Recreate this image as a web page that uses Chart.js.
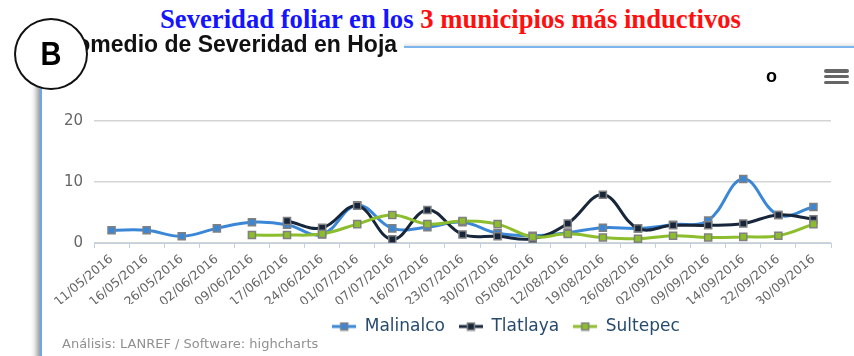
<!DOCTYPE html>
<html lang="es">
<head>
<meta charset="utf-8">
<title>Severidad foliar en los 3 municipios más inductivos</title>
<script src="https://cdn.jsdelivr.net/npm/chart.js@4.4.1/dist/chart.umd.min.js"></script>
<style>
  html, body { margin: 0; padding: 0; background: #fff; }
  body { width: 854px; height: 356px; position: relative; overflow: hidden; }
  #titulo { position: absolute; left: 160px; top: 6px; font: bold 27px/27px "Liberation Serif", "Times New Roman", serif;
            color: #1414ff; white-space: nowrap; transform-origin: 0 0; }
  #titulo .rojo { color: #ff1010; }
  #marco { position: absolute; left: 40px; top: 46px; width: 830px; height: 330px;
           border-left: 2px solid #6aa9ee; border-top: 2px solid #7db5ee;
           box-shadow: -5px 0 6px -2px rgba(0, 0, 0, .45); }
  #grafica { position: absolute; left: 0; top: 0; width: 854px; height: 356px; }
  #subtitulo { position: absolute; left: 52px; top: 33px; font: bold 23px/23px "Liberation Sans", Arial, sans-serif;
               color: #111; background: #fff; padding-right: 7px; white-space: nowrap; }
  #circulo { position: absolute; left: 14px; top: 18px; width: 70px; height: 68px; border: 2px solid #111;
             border-radius: 50%; background: #fff; }
  #circulo span { position: absolute; left: 0; right: 0; top: 17px; text-align: center;
                  font: bold 33px/33px "Liberation Sans", Arial, sans-serif; color: #000; transform: scaleX(.88); }
  #exportar { position: absolute; left: 766px; top: 67px; font: bold 18px/18px "Liberation Sans", Arial, sans-serif; color: #000; }
  #menu { position: absolute; left: 824px; top: 69px; width: 25px; }
  #menu div { height: 3.5px; background: #666; border-radius: 2px; margin-bottom: 2.4px; }
  #pie { position: absolute; left: 62px; top: 337px; font: 13px/13px "DejaVu Sans", sans-serif; color: #909090; white-space: nowrap; }
</style>
</head>
<body>
<div id="titulo">Severidad foliar en los <span class="rojo">3 municipios más inductivos</span></div>
<div id="marco"></div>
<div id="grafica"><canvas id="severidadChart"></canvas></div>
<div id="subtitulo">Promedio de Severidad en Hoja</div>
<div id="circulo"><span>B</span></div>
<div id="exportar">o</div>
<div id="menu"><div></div><div></div><div></div></div>
<div id="pie">Análisis: LANREF / Software: highcharts</div>

<script>
const fechas = [
    '11/05/2016', '16/05/2016', '26/05/2016', '02/06/2016', '09/06/2016', '17/06/2016', '24/06/2016',
    '01/07/2016', '07/07/2016', '16/07/2016', '23/07/2016', '30/07/2016', '05/08/2016', '12/08/2016',
    '19/08/2016', '26/08/2016', '02/09/2016', '09/09/2016', '14/09/2016', '22/09/2016', '30/09/2016'
];
const malinalco = [2.1, 2.1, 1.1, 2.4, 3.4, 3.0, 1.4, 6.2, 2.4, 2.6, 3.4, 1.6, 1.2, 1.7, 2.5, 2.4, 3.0, 3.7, 10.5, 4.6, 5.9];
const tlatlaya = [null, null, null, null, null, 3.6, 2.5, 6.1, 0.6, 5.4, 1.4, 1.1, 0.7, 3.2, 7.9, 2.4, 2.9, 2.9, 3.2, 4.6, 3.9];
const sultepec = [null, null, null, null, 1.3, 1.3, 1.5, 3.1, 4.6, 3.1, 3.6, 3.1, 1.0, 1.5, 0.9, 0.7, 1.2, 0.9, 1.0, 1.2, 3.1];
const marcasY = [0, 10, 20];

const municipios = ['Malinalco', 'Tlatlaya', 'Sultepec'];
const valores = [malinalco, tlatlaya, sultepec];
const colores = ['#3a87d7', '#17263a', '#8cbd2c'];

// simbolo de la leyenda: linea con el marcador cuadrado al centro
function simboloLeyenda(color) {
    const c = document.createElement('canvas');
    c.width = 24;
    c.height = 10;
    const g = c.getContext('2d');
    g.strokeStyle = color;
    g.lineWidth = 3;
    g.beginPath();
    g.moveTo(0, 5);
    g.lineTo(24, 5);
    g.stroke();
    g.fillStyle = color;
    g.fillRect(8.5, 1.5, 7, 7);
    g.strokeStyle = '#7f7f7f';
    g.lineWidth = 1.5;
    g.strokeRect(8.5, 1.5, 7, 7);
    return c;
}
const simbolos = colores.map(simboloLeyenda);

// la leyenda va centrada en el marco completo, que sigue mas alla del borde derecho
const leyendaCorrida = {
    id: 'leyendaCorrida',
    afterLayout(chart) {
        chart.legend.left += 70;
        chart.legend.right += 70;
    }
};

const fuente = '"DejaVu Sans", sans-serif';

new Chart(document.getElementById('severidadChart'), {
    type: 'line',
    data: {
        labels: fechas,
        datasets: municipios.map((nombre, i) => ({
            label: nombre,
            data: valores[i],
            borderColor: colores[i],
            backgroundColor: colores[i],
            borderWidth: 3,
            tension: 0.4,
            pointStyle: 'rect',
            pointRadius: 5,
            pointBackgroundColor: colores[i],
            pointBorderColor: '#808080',
            pointBorderWidth: 1.5,
            order: municipios.length - i
        }))
    },
    options: {
        responsive: true,
        maintainAspectRatio: false,
        animation: false,
        layout: { padding: { top: 121, left: 41, right: 23, bottom: 11 } },
        plugins: {
            tooltip: { enabled: false },
            legend: {
                position: 'bottom',
                labels: {
                    usePointStyle: true,
                    pointStyleWidth: 24,
                    padding: 14,
                    color: '#274b6d',
                    font: { family: fuente, size: 17 },
                    generateLabels: chart => chart.data.datasets.map((ds, i) => ({
                        text: ds.label,
                        pointStyle: simbolos[i],
                        fillStyle: ds.borderColor,
                        strokeStyle: 'transparent',
                        lineWidth: 0,
                        fontColor: '#274b6d',
                        hidden: false,
                        datasetIndex: i
                    }))
                }
            }
        },
        scales: {
            x: {
                offset: true,
                afterFit: scale => { scale.height = 61; },
                border: { display: true, color: '#c0d0e0', width: 1 },
                grid: { display: true, drawOnChartArea: false, offset: true, tickLength: 5, color: '#c0d0e0' },
                ticks: {
                    autoSkip: false,
                    minRotation: 40,
                    maxRotation: 40,
                    padding: 4,
                    color: '#666',
                    font: { family: fuente, size: 12.5 }
                }
            },
            y: {
                min: 0,
                max: 20,
                afterFit: scale => { scale.width = 53; },
                afterBuildTicks: scale => { scale.ticks = marcasY.map(v => ({ value: v })); },
                border: { display: false },
                grid: { color: '#d4d4d4', lineWidth: 1.5, drawTicks: false },
                ticks: {
                    padding: 11,
                    color: '#666',
                    font: { family: fuente, size: 15 }
                }
            }
        }
    },
    plugins: [leyendaCorrida]
});

// el titulo se ajusta al ancho que ocupa sobre el marco
document.fonts.ready.then(() => {
    const titulo = document.getElementById('titulo');
    const ancho = titulo.getBoundingClientRect().width;
    titulo.style.transform = 'scaleX(' + (581 / ancho) + ')';
});
</script>
</body>
</html>
